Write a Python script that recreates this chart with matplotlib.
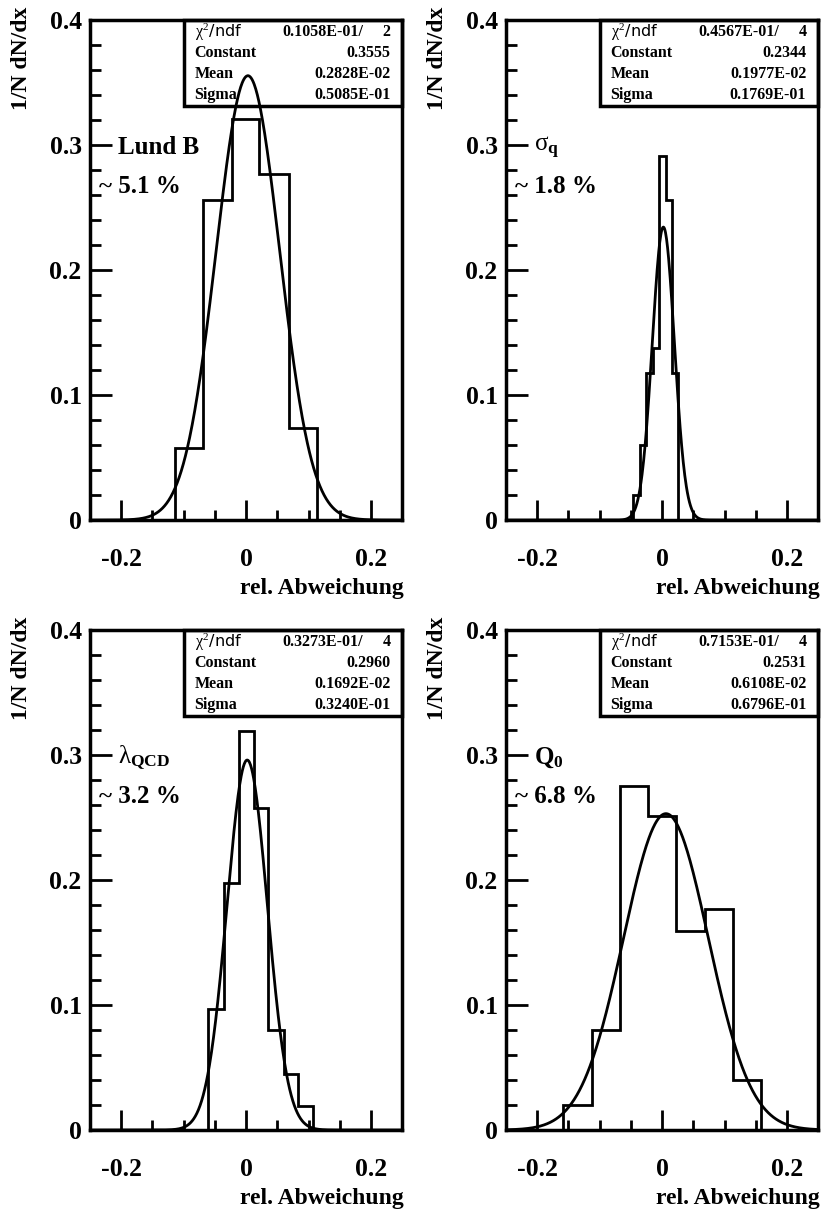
import numpy as np
import matplotlib
matplotlib.use('Agg')
import matplotlib.pyplot as plt
from matplotlib.patches import Rectangle
from matplotlib.ticker import MultipleLocator

plt.rcParams['font.family'] = ['Liberation Serif', 'DejaVu Serif']
plt.rcParams['font.weight'] = 'bold'
plt.rcParams['mathtext.fontset'] = 'custom'
plt.rcParams['mathtext.rm'] = 'Liberation Serif:regular'
plt.rcParams['mathtext.it'] = 'Liberation Serif:regular'
plt.rcParams['mathtext.bf'] = 'Liberation Serif:bold'

# Histogrammdaten (Anteil pro Bin) und Fit-Parameter
lund_edges = [-0.114, -0.069, -0.023, 0.021, 0.068, 0.113]
lund_heights = [0.058, 0.256, 0.321, 0.277, 0.074]
lund_fit = [0.3555, 0.2828e-02, 0.5085e-01]
lund_stats = ['0.1058E-01/', '2', '0.3555', '0.2828E-02', '0.5085E-01']

sq_edges = [-0.046, -0.0355, -0.026, -0.0143, -0.0053, 0.0058, 0.0159, 0.0254]
sq_heights = [0.020, 0.060, 0.118, 0.138, 0.291, 0.256, 0.118]
sq_fit = [0.2344, 0.1977e-02, 0.1769e-01]
sq_stats = ['0.4567E-01/', '4', '0.2344', '0.1977E-02', '0.1769E-01']

lqcd_edges = [-0.061, -0.036, -0.0122, 0.0127, 0.0355, 0.0605, 0.0833, 0.107]
lqcd_heights = [0.097, 0.198, 0.319, 0.258, 0.080, 0.045, 0.019]
lqcd_fit = [0.2960, 0.1692e-02, 0.3240e-01]
lqcd_stats = ['0.3273E-01/', '4', '0.2960', '0.1692E-02', '0.3240E-01']

q0_edges = [-0.159, -0.113, -0.068, -0.022, 0.023, 0.068, 0.113, 0.159]
q0_heights = [0.020, 0.080, 0.275, 0.251, 0.159, 0.177, 0.040]
q0_fit = [0.2531, 0.6108e-02, 0.6796e-01]
q0_stats = ['0.7153E-01/', '4', '0.2531', '0.6108E-02', '0.6796E-01']

names = ['Lund B', r'$\sigma_{\mathbf{q}}$', r'$\lambda_{\mathbf{QCD}}$', r'$\mathbf{Q}_{\mathbf{0}}$']
percents = ['~ 5.1 %', '~ 1.8 %', '~ 3.2 %', '~ 6.8 %']

panels = [
    (lund_edges, lund_heights, lund_fit, lund_stats),
    (sq_edges, sq_heights, sq_fit, sq_stats),
    (lqcd_edges, lqcd_heights, lqcd_fit, lqcd_stats),
    (q0_edges, q0_heights, q0_fit, q0_stats),
]

fig = plt.figure(figsize=(8.26, 12.10), dpi=100)
lefts = [0.109, 0.6126]
bottoms = [0.5702, 0.0661]
w, h = 0.378, 0.4132

x = np.linspace(-0.25, 0.25, 600)

for i, (edges, heights, fit, stats) in enumerate(panels):
    ax = fig.add_axes([lefts[i % 2], bottoms[i // 2], w, h])
    ax.set_xlim(-0.25, 0.25)
    ax.set_ylim(0, 0.4)

    # Histogramm + Gauss-Fit
    ax.stairs(heights, edges, color='black', linewidth=2, zorder=3)
    c, m, s = fit
    ax.plot(x, c * np.exp(-0.5 * ((x - m) / s) ** 2), color='black', lw=2, zorder=4)

    for sp in ax.spines.values():
        sp.set_linewidth(2.5)
    ax.xaxis.set_major_locator(MultipleLocator(0.2))
    ax.xaxis.set_minor_locator(MultipleLocator(0.05))
    ax.yaxis.set_major_locator(MultipleLocator(0.1))
    ax.yaxis.set_minor_locator(MultipleLocator(0.02))
    ax.tick_params(which='both', direction='in', width=2, top=False, right=False)
    ax.tick_params(axis='x', which='major', length=14.5, pad=20, labelsize=18.5)
    ax.tick_params(axis='x', which='minor', length=7)
    ax.tick_params(axis='y', which='major', length=16, pad=6, labelsize=18.5)
    ax.tick_params(axis='y', which='minor', length=8)
    ax.set_xticks([-0.2, 0, 0.2])
    ax.set_xticklabels(['-0.2', '0', '0.2'], fontweight='bold')
    ax.set_yticks([0, 0.1, 0.2, 0.3, 0.4])
    ax.set_yticklabels(['0', '0.1', '0.2', '0.3', '0.4'], fontweight='bold')

    ax.text(1.005, -0.136, 'rel. Abweichung', transform=ax.transAxes,
            ha='right', va='center', fontsize=17, fontweight='bold')
    ax.text(-0.218, 1.026, '1/N dN/dx', transform=ax.transAxes, rotation=90,
            ha='center', va='top', fontsize=17, fontweight='bold')

    # Statistik-Box
    ax.add_patch(Rectangle((0.30, 0.829), 0.70, 0.171, transform=ax.transAxes,
                           facecolor='white', edgecolor='black', lw=2.5, zorder=2,
                           clip_on=False))
    rows = [0.976, 0.935, 0.893, 0.851]
    ax.text(0.335, rows[0], r'$\chi^2$/ndf', transform=ax.transAxes, ha='left', va='center',
            fontsize=11.5, fontweight='normal', family=['DejaVu Sans'], zorder=3)
    ax.text(0.875, rows[0], stats[0], transform=ax.transAxes, ha='right', va='center',
            fontsize=11.5, fontweight='bold', zorder=3)
    ax.text(0.962, rows[0], stats[1], transform=ax.transAxes, ha='right', va='center',
            fontsize=11.5, fontweight='bold', zorder=3)
    for lab, val, yy in zip(['Constant', 'Mean', 'Sigma'], stats[2:], rows[1:]):
        ax.text(0.335, yy, lab, transform=ax.transAxes, ha='left', va='center',
                fontsize=11.5, fontweight='bold', zorder=3)
        ax.text(0.962, yy, val, transform=ax.transAxes, ha='right', va='center',
                fontsize=11.5, fontweight='bold', zorder=3)

    ax.text(0.09, 0.745, names[i], transform=ax.transAxes, ha='left', va='center',
            fontsize=18, fontweight='bold')
    ax.text(0.03, 0.668, percents[i], transform=ax.transAxes, ha='left', va='center',
            fontsize=18, fontweight='bold')

fig.savefig('out.png', dpi=100)
